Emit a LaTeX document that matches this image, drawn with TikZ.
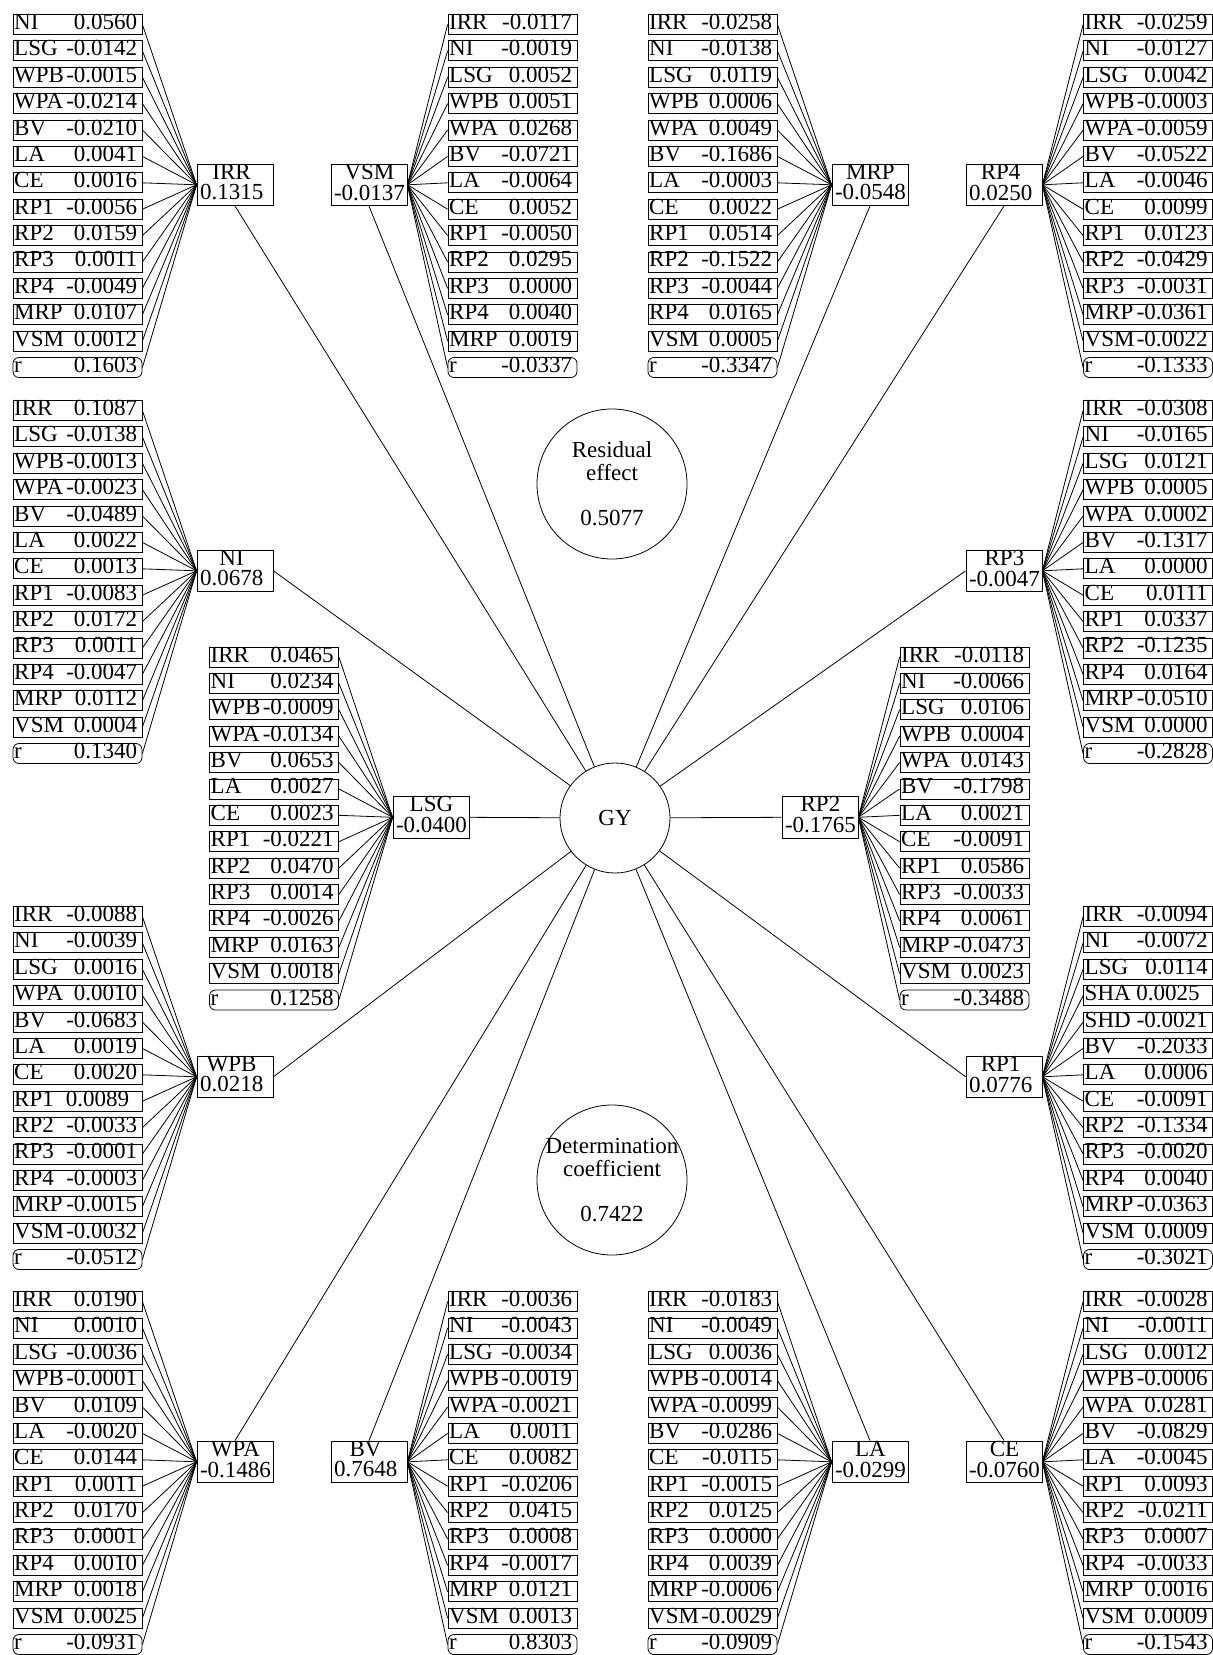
\documentclass[tikz,border=0pt]{standalone}
\usepackage{fontspec}
\setmainfont{Liberation Serif}
\newcommand{\pb}[2]{\hbox to 64.5pt{\hspace{0.6pt}#1\hfill#2\hspace{2.4pt}}}
\newcommand{\vn}[2]{\makebox[37pt][l]{\hspace{1pt}\begin{tabular}{@{}c@{}}#1\\#2\end{tabular}}}
\newcommand{\padr}{\hspace{4pt}}
\begin{document}
\begin{tikzpicture}[x=0.5pt,y=-0.5pt,
  every node/.style={font=\fontsize{11.5}{9.3}\selectfont},
  var/.style={draw,rectangle,minimum width=38pt,minimum height=20.5pt,inner sep=0pt},
  pbox/.style={draw,rectangle,inner sep=0pt,text height=7.5pt,text depth=2.5pt},
  rbox/.style={pbox,rounded corners=3pt},
  bubble/.style={draw,circle,minimum size=75pt,inner sep=-4pt,align=center,font=\fontsize{11.5}{11.5}\selectfont}]
\useasboundingbox (0,0) rectangle (1213,1655);
% centre
\node[draw,circle,minimum size=55pt,inner sep=0pt] (GY) at (615,818) {GY};
\node[bubble] (res) at (612,484) {Residual\\effect\\[11pt]0.5077};
\node[bubble] (det) at (612,1180) {Determination\\coefficient\\[11pt]0.7422};
% variables
\node[var] (IRR) at (235,184.8) {\vn{IRR}{0.1315}};
\node[var] (VSM) at (369,184.8) {\vn{VSM}{-0.0137}};
\node[var] (MRP) at (870,184.8) {\vn{MRP}{-0.0548}};
\node[var] (RP4) at (1004,184.8) {\vn{RP4}{0.0250}};
\node[var] (NI) at (235,570.8) {\vn{NI}{0.0678}};
\node[var] (RP3) at (1004,570.8) {\vn{RP3}{-0.0047}};
\node[var] (LSG) at (431,817.3) {\vn{LSG}{-0.0400}};
\node[var] (RP2) at (820,817.3) {\vn{RP2}{-0.1765}};
\node[var] (WPB) at (235,1076.8) {\vn{WPB}{0.0218}};
\node[var] (RP1) at (1004,1076.8) {\vn{RP1}{0.0776}};
\node[var] (WPA) at (235,1461.8) {\vn{WPA}{-0.1486}};
\node[var] (BV) at (369,1461.8) {\vn{BV}{0.7648}};
\node[var] (LA) at (870,1461.8) {\vn{LA}{-0.0299}};
\node[var] (CE) at (1004,1461.8) {\vn{CE}{-0.0760}};
\draw (IRR.south) -- (GY);
\draw (VSM.south) -- (GY);
\draw (MRP.south) -- (GY);
\draw (RP4.south) -- (GY);
\draw (NI.east) -- (GY);
\draw (RP3.west) -- (GY);
\draw (LSG.east) -- (GY);
\draw (RP2.west) -- (GY);
\draw (WPB.east) -- (GY);
\draw (RP1.west) -- (GY);
\draw (WPA.north) -- (GY);
\draw (BV.north) -- (GY);
\draw (LA.north) -- (GY);
\draw (CE.north) -- (GY);
% IRR
\foreach \nm/\val [count=\k from 0] in {NI/0.0560,LSG/-0.0142,WPB/-0.0015,WPA/-0.0214,BV/-0.0210,LA/0.0041,CE/0.0016,RP1/-0.0056,RP2/0.0159,RP3/0.0011,RP4/-0.0049,MRP/0.0107,VSM/0.0012}
  {\node[pbox] (irr-\k) at (77.5,{24.5+\k*26.385}) {\pb{\nm}{\val}};
   \draw (irr-\k.east) -- (IRR.west);}
\node[rbox] (irr-r) at (77.5,{24.5+13*26.385}) {\pb{r}{0.1603}};
\draw (irr-r.east) -- (IRR.west);
% VSM
\foreach \nm/\val [count=\k from 0] in {IRR/-0.0117,NI/-0.0019,LSG/0.0052,WPB/0.0051,WPA/0.0268,BV/-0.0721,LA/-0.0064,CE/0.0052,RP1/-0.0050,RP2/0.0295,RP3/0.0000,RP4/0.0040,MRP/0.0019}
  {\node[pbox] (vsm-\k) at (512.5,{24.5+\k*26.385}) {\pb{\nm}{\val}};
   \draw (vsm-\k.west) -- (VSM.east);}
\node[rbox] (vsm-r) at (512.5,{24.5+13*26.385}) {\pb{r}{-0.0337}};
\draw (vsm-r.west) -- (VSM.east);
% MRP
\foreach \nm/\val [count=\k from 0] in {IRR/-0.0258,NI/-0.0138,LSG/0.0119,WPB/0.0006,WPA/0.0049,BV/-0.1686,LA/-0.0003,CE/0.0022,RP1/0.0514,RP2/-0.1522,RP3/-0.0044,RP4/0.0165,VSM/0.0005}
  {\node[pbox] (mrp-\k) at (712.5,{24.5+\k*26.385}) {\pb{\nm}{\val}};
   \draw (mrp-\k.east) -- (MRP.west);}
\node[rbox] (mrp-r) at (712.5,{24.5+13*26.385}) {\pb{r}{-0.3347}};
\draw (mrp-r.east) -- (MRP.west);
% RP4
\foreach \nm/\val [count=\k from 0] in {IRR/-0.0259,NI/-0.0127,LSG/0.0042,WPB/-0.0003,WPA/-0.0059,BV/-0.0522,LA/-0.0046,CE/0.0099,RP1/0.0123,RP2/-0.0429,RP3/-0.0031,MRP/-0.0361,VSM/-0.0022}
  {\node[pbox] (rp4-\k) at (1148,{24.5+\k*26.385}) {\pb{\nm}{\val}};
   \draw (rp4-\k.west) -- (RP4.east);}
\node[rbox] (rp4-r) at (1148,{24.5+13*26.385}) {\pb{r}{-0.1333}};
\draw (rp4-r.west) -- (RP4.east);
% NI
\foreach \nm/\val [count=\k from 0] in {IRR/0.1087,LSG/-0.0138,WPB/-0.0013,WPA/-0.0023,BV/-0.0489,LA/0.0022,CE/0.0013,RP1/-0.0083,RP2/0.0172,RP3/0.0011,RP4/-0.0047,MRP/0.0112,VSM/0.0004}
  {\node[pbox] (ni-\k) at (77.5,{410.5+\k*26.385}) {\pb{\nm}{\val}};
   \draw (ni-\k.east) -- (NI.west);}
\node[rbox] (ni-r) at (77.5,{410.5+13*26.385}) {\pb{r}{0.1340}};
\draw (ni-r.east) -- (NI.west);
% RP3
\foreach \nm/\val [count=\k from 0] in {IRR/-0.0308,NI/-0.0165,LSG/0.0121,WPB/0.0005,WPA/0.0002,BV/-0.1317,LA/0.0000,CE/0.0111,RP1/0.0337,RP2/-0.1235,RP4/0.0164,MRP/-0.0510,VSM/0.0000}
  {\node[pbox] (rp3-\k) at (1148,{410.5+\k*26.385}) {\pb{\nm}{\val}};
   \draw (rp3-\k.west) -- (RP3.east);}
\node[rbox] (rp3-r) at (1148,{410.5+13*26.385}) {\pb{r}{-0.2828}};
\draw (rp3-r.west) -- (RP3.east);
% LSG
\foreach \nm/\val [count=\k from 0] in {IRR/0.0465,NI/0.0234,WPB/-0.0009,WPA/-0.0134,BV/0.0653,LA/0.0027,CE/0.0023,RP1/-0.0221,RP2/0.0470,RP3/0.0014,RP4/-0.0026,MRP/0.0163,VSM/0.0018}
  {\node[pbox] (lsg-\k) at (274,{657+\k*26.385}) {\pb{\nm}{\val}};
   \draw (lsg-\k.east) -- (LSG.west);}
\node[rbox] (lsg-r) at (274,{657+13*26.385}) {\pb{r}{0.1258}};
\draw (lsg-r.east) -- (LSG.west);
% RP2
\foreach \nm/\val [count=\k from 0] in {IRR/-0.0118,NI/-0.0066,LSG/0.0106,WPB/0.0004,WPA/0.0143,BV/-0.1798,LA/0.0021,CE/-0.0091,RP1/0.0586,RP3/-0.0033,RP4/0.0061,MRP/-0.0473,VSM/0.0023}
  {\node[pbox] (rp2-\k) at (964.5,{657+\k*26.385}) {\pb{\nm}{\val}};
   \draw (rp2-\k.west) -- (RP2.east);}
\node[rbox] (rp2-r) at (964.5,{657+13*26.385}) {\pb{r}{-0.3488}};
\draw (rp2-r.west) -- (RP2.east);
% WPB
\foreach \nm/\val [count=\k from 0] in {IRR/-0.0088,NI/-0.0039,LSG/0.0016,WPA/0.0010,BV/-0.0683,LA/0.0019,CE/0.0020,RP1/0.0089\padr,RP2/-0.0033,RP3/-0.0001,RP4/-0.0003,MRP/-0.0015,VSM/-0.0032}
  {\node[pbox] (wpb-\k) at (77.5,{916.5+\k*26.385}) {\pb{\nm}{\val}};
   \draw (wpb-\k.east) -- (WPB.west);}
\node[rbox] (wpb-r) at (77.5,{916.5+13*26.385}) {\pb{r}{-0.0512}};
\draw (wpb-r.east) -- (WPB.west);
% RP1
\foreach \nm/\val [count=\k from 0] in {IRR/-0.0094,NI/-0.0072,LSG/0.0114,SHA/0.0025\padr,SHD/-0.0021,BV/-0.2033,LA/0.0006,CE/-0.0091,RP2/-0.1334,RP3/-0.0020,RP4/0.0040,MRP/-0.0363,VSM/0.0009}
  {\node[pbox] (rp1-\k) at (1148,{916.5+\k*26.385}) {\pb{\nm}{\val}};
   \draw (rp1-\k.west) -- (RP1.east);}
\node[rbox] (rp1-r) at (1148,{916.5+13*26.385}) {\pb{r}{-0.3021}};
\draw (rp1-r.west) -- (RP1.east);
% WPA
\foreach \nm/\val [count=\k from 0] in {IRR/0.0190,NI/0.0010,LSG/-0.0036,WPB/-0.0001,BV/0.0109,LA/-0.0020,CE/0.0144,RP1/0.0011,RP2/0.0170,RP3/0.0001,RP4/0.0010,MRP/0.0018,VSM/0.0025}
  {\node[pbox] (wpa-\k) at (77.5,{1301.5+\k*26.385}) {\pb{\nm}{\val}};
   \draw (wpa-\k.east) -- (WPA.west);}
\node[rbox] (wpa-r) at (77.5,{1301.5+13*26.385}) {\pb{r}{-0.0931}};
\draw (wpa-r.east) -- (WPA.west);
% BV
\foreach \nm/\val [count=\k from 0] in {IRR/-0.0036,NI/-0.0043,LSG/-0.0034,WPB/-0.0019,WPA/-0.0021,LA/0.0011,CE/0.0082,RP1/-0.0206,RP2/0.0415,RP3/0.0008,RP4/-0.0017,MRP/0.0121,VSM/0.0013}
  {\node[pbox] (bv-\k) at (512.5,{1301.5+\k*26.385}) {\pb{\nm}{\val}};
   \draw (bv-\k.west) -- (BV.east);}
\node[rbox] (bv-r) at (512.5,{1301.5+13*26.385}) {\pb{r}{0.8303}};
\draw (bv-r.west) -- (BV.east);
% LA
\foreach \nm/\val [count=\k from 0] in {IRR/-0.0183,NI/-0.0049,LSG/0.0036,WPB/-0.0014,WPA/-0.0099,BV/-0.0286,CE/-0.0115,RP1/-0.0015,RP2/0.0125,RP3/0.0000,RP4/0.0039,MRP/-0.0006,VSM/-0.0029}
  {\node[pbox] (la-\k) at (712.5,{1301.5+\k*26.385}) {\pb{\nm}{\val}};
   \draw (la-\k.east) -- (LA.west);}
\node[rbox] (la-r) at (712.5,{1301.5+13*26.385}) {\pb{r}{-0.0909}};
\draw (la-r.east) -- (LA.west);
% CE
\foreach \nm/\val [count=\k from 0] in {IRR/-0.0028,NI/-0.0011,LSG/0.0012,WPB/-0.0006,WPA/0.0281,BV/-0.0829,LA/-0.0045,RP1/0.0093,RP2/-0.0211,RP3/0.0007,RP4/-0.0033,MRP/0.0016,VSM/0.0009}
  {\node[pbox] (ce-\k) at (1148,{1301.5+\k*26.385}) {\pb{\nm}{\val}};
   \draw (ce-\k.west) -- (CE.east);}
\node[rbox] (ce-r) at (1148,{1301.5+13*26.385}) {\pb{r}{-0.1543}};
\draw (ce-r.west) -- (CE.east);
\end{tikzpicture}
\end{document}
